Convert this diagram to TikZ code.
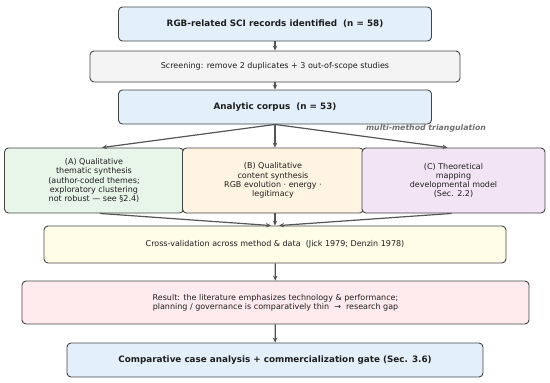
\documentclass[tikz,border=0pt]{standalone}
\usepackage{fontspec}
\setmainfont{DejaVu Sans}
\usetikzlibrary{arrows.meta}
\definecolor{rvink}{HTML}{1E1E1E}
\definecolor{rvline}{HTML}{454545}
\definecolor{rvarrow}{HTML}{555555}
\definecolor{rvblue}{HTML}{E3F0FB}
\definecolor{rvgrey}{HTML}{F4F4F4}
\definecolor{rvgreen}{HTML}{E8F5E9}
\definecolor{rvorange}{HTML}{FFF3E1}
\definecolor{rvpurple}{HTML}{F3E4F5}
\definecolor{rvyellow}{HTML}{FFFDE8}
\definecolor{rvpink}{HTML}{FFEBEE}
\definecolor{rvnote}{HTML}{707070}
\tikzset{
  rv text/.style={font=\fontsize{8}{9.2}\selectfont, text=rvink},
  rv box/.style={draw=rvline, line width=0.9pt, rounded corners=4pt,
    align=center, inner sep=2pt, font=\fontsize{8}{9.2}\selectfont},
  rv key/.style={rv box, fill=rvblue, font=\fontsize{8.8}{10}\selectfont\bfseries},
  rv arrow/.style={-{Stealth[length=5pt,width=4.5pt]}, line width=1.2pt,
    draw=rvarrow, line cap=butt},
  rv note/.style={font=\fontsize{7.8}{9}\selectfont\bfseries\itshape, text=rvnote}
}
\begin{document}
\begin{tikzpicture}[rv text, x=1pt, y=-1pt]
  \useasboundingbox (0,0) rectangle (550,383);
  \node[rv key, minimum width=313pt, minimum height=34pt] (ident) at (275,24) {RGB-related SCI records identified\ \ (n = 58)};
  \node[rv box, fill=rvgrey, minimum width=370pt, minimum height=31pt] (screen) at (275,66.5) {Screening: remove 2 duplicates + 3 out-of-scope studies};
  \node[rv key, minimum width=313pt, minimum height=34pt] (corpus) at (275,107) {Analytic corpus\ \ (n = 53)};
  \draw[rv arrow] (ident)--(screen);
  \draw[rv arrow] (screen)--(corpus);
  \node[rv note] (triang) at (426,128) {multi-method triangulation};
  \node[rv box, fill=rvgreen, minimum width=179pt, minimum height=65pt] (methA) at (94,180.5) {(A) Qualitative\\thematic synthesis\\(author-coded themes;\\exploratory clustering\\not robust — see §2.4)};
  \node[rv box, fill=rvorange, minimum width=181pt, minimum height=65pt] (methB) at (273,180.5) {(B) Qualitative\\content synthesis\\RGB evolution · energy ·\\legitimacy};
  \node[rv box, fill=rvpurple, minimum width=183pt, minimum height=65pt] (methC) at (453.5,180.5) {(C) Theoretical\\mapping\\developmental model\\(Sec. 2.2)};
  \draw[rv arrow] (corpus.south)--([xshift=8pt]methA.north);
  \draw[rv arrow] (corpus.south)--([xshift=2pt]methB.north);
  \draw[rv arrow] (corpus.south)--([xshift=-6pt]methC.north);
  \node[rv box, fill=rvyellow, minimum width=462pt, minimum height=37pt] (cross) at (275,244.5) {Cross-validation across method \& data\ \ (Jick 1979; Denzin 1978)};
  \draw[rv arrow] ([xshift=6pt]methA.south)--([xshift=-4pt]cross.north);
  \draw[rv arrow] ([xshift=2pt]methB.south)--(cross.north);
  \draw[rv arrow] ([xshift=-2pt]methC.south)--([xshift=4pt]cross.north);
  \node[rv box, fill=rvpink, minimum width=507pt, minimum height=43pt] (result) at (275.5,302.5) {Result: the literature emphasizes technology \& performance;\\planning / governance is comparatively thin\ \ →\ \ research gap};
  \draw[rv arrow] (cross)--(result);
  \node[rv key, minimum width=416pt, minimum height=34pt] (gate) at (275,360) {Comparative case analysis + commercialization gate (Sec. 3.6)};
  \draw[rv arrow] (result)--(gate);
\end{tikzpicture}
\end{document}
